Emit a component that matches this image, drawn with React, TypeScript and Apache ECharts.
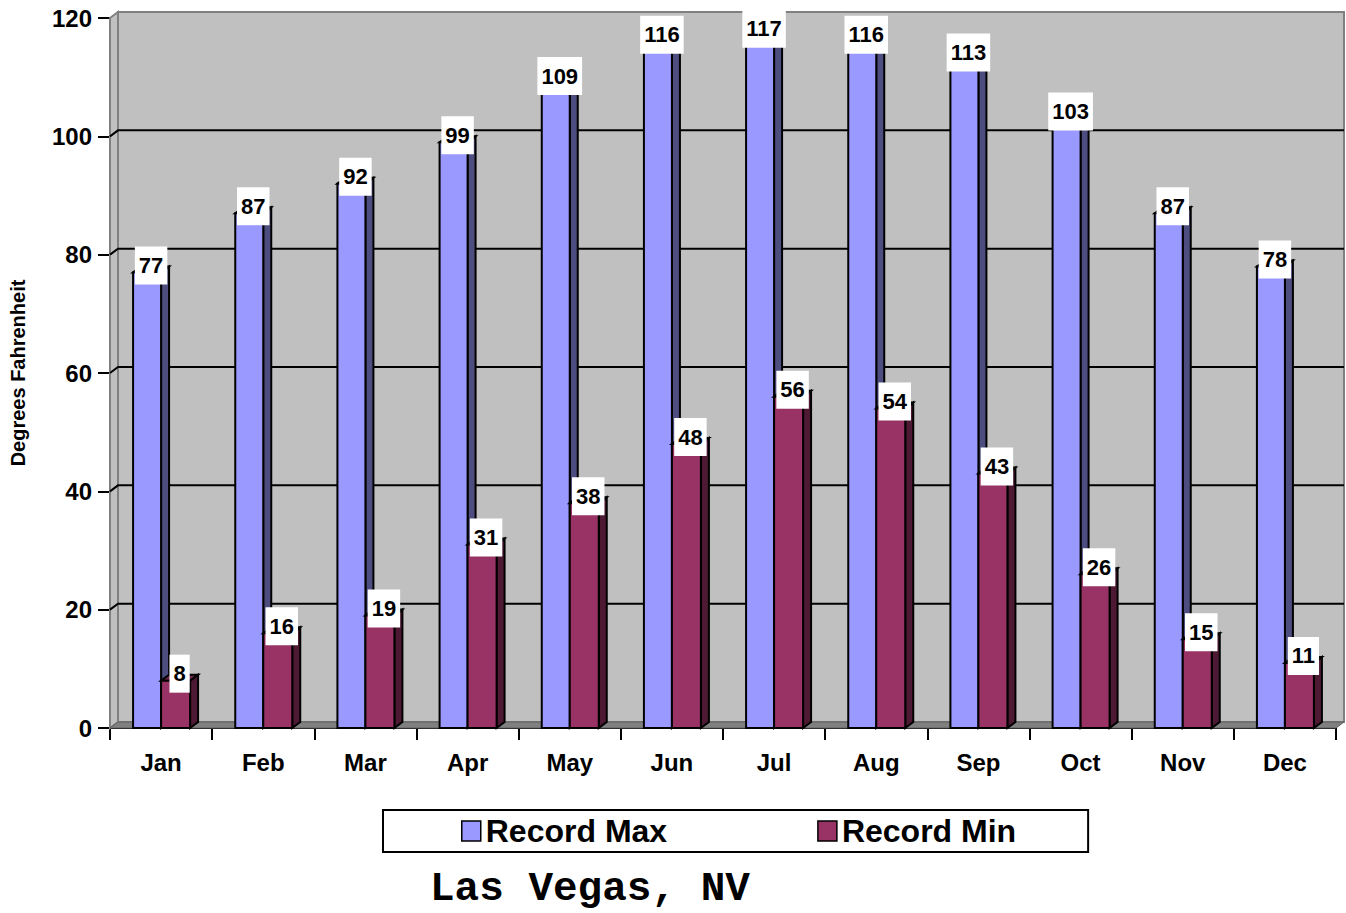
import React, { useEffect, useRef } from "react";
import * as echarts from "echarts";

const months = ["Jan", "Feb", "Mar", "Apr", "May", "Jun", "Jul", "Aug", "Sep", "Oct", "Nov", "Dec"];
const recordMax = [77, 87, 92, 99, 109, 116, 117, 116, 113, 103, 87, 78];
const recordMin = [8, 16, 19, 31, 38, 48, 56, 54, 43, 26, 15, 11];
const gridTicks = [20, 40, 60, 80, 100];

const DX = 8;
const DY = -6;
const FONT = '"Liberation Sans", Arial, sans-serif';

function barRenderer(offset: number, width: number, front: string, side: string, topc: string) {
  return (params: any, api: any) => {
    const i = api.value(0);
    const v = api.value(1);
    const top = api.coord([i, v]);
    const base = api.coord([i, 0]);
    const x0 = top[0] + offset;
    const x1 = x0 + width;
    const yt = top[1];
    const yb = base[1];
    const stroke = { stroke: "#000", lineWidth: 2, lineJoin: "miter" };
    return {
      type: "group",
      children: [
        {
          type: "polygon",
          shape: { points: [[x1, yt], [x1 + DX, yt + DY], [x1 + DX, yb + DY], [x1, yb]] },
          style: { fill: side, ...stroke },
        },
        {
          type: "polygon",
          shape: { points: [[x0, yt], [x0 + DX, yt + DY], [x1 + DX, yt + DY], [x1, yt]] },
          style: { fill: topc, ...stroke },
        },
        {
          type: "rect",
          shape: { x: x0, y: yt, width: width, height: yb - yt },
          style: { fill: front, ...stroke },
        },
        {
          type: "text",
          x: (x0 + x1) / 2 + 4,
          y: yt - 7,
          z2: 100,
          style: {
            text: String(v),
            fill: "#000",
            font: `bold 22px ${FONT}`,
            align: "center",
            verticalAlign: "middle",
            backgroundColor: "#fff",
            padding: [8, 4],
          },
        },
      ],
    };
  };
}

function wallRenderer(params: any, api: any) {
  const cs = params.coordSys;
  const gx = cs.x;
  const gy = cs.y;
  const gw = cs.width;
  const gh = cs.height;
  const children: any[] = [
    {
      type: "rect",
      shape: { x: gx + DX, y: gy + DY, width: gw, height: gh },
      style: { fill: "#C0C0C0", stroke: "#808080", lineWidth: 2 },
    },
    {
      type: "polygon",
      shape: { points: [[gx, gy], [gx + DX, gy + DY], [gx + DX, gy + gh + DY], [gx, gy + gh]] },
      style: { fill: "#C0C0C0", stroke: "#808080", lineWidth: 2 },
    },
    {
      type: "polygon",
      shape: { points: [[gx, gy + gh], [gx + DX, gy + gh + DY], [gx + gw + DX, gy + gh + DY], [gx + gw, gy + gh]] },
      style: { fill: "#808080", stroke: "#606060", lineWidth: 1 },
    },
  ];
  gridTicks.forEach((t) => {
    const y = api.coord([0, t])[1];
    children.push({
      type: "polyline",
      shape: { points: [[gx, y], [gx + DX, y + DY], [gx + gw + DX, y + DY]] },
      style: { stroke: "#000", lineWidth: 2, fill: null },
    });
  });
  return { type: "group", children };
}

export default function App() {
  const ref = useRef<HTMLDivElement>(null);
  useEffect(() => {
    if (!ref.current) return;
    const chart = echarts.init(ref.current, null, { renderer: "svg" });
    chart.setOption({
      animation: false,
      backgroundColor: "#fff",
      title: {
        text: "Las Vegas, NV",
        left: 430,
        top: 870,
        padding: 0,
        textStyle: {
          fontFamily: '"Liberation Mono", "Courier New", monospace',
          fontWeight: "bold",
          fontSize: 41,
          lineHeight: 38,
          color: "#000",
        },
      },
      legend: {
        left: 383,
        top: 810,
        padding: [5, 72, 5, 78],
        itemGap: 150,
        itemWidth: 19,
        itemHeight: 20,
        backgroundColor: "#fff",
        borderColor: "#000",
        borderWidth: 2,
        borderRadius: 0,
        icon: "rect",
        itemStyle: { borderColor: "#000", borderWidth: 1.5 },
        textStyle: { fontFamily: FONT, fontWeight: "bold", fontSize: 32, color: "#000", lineHeight: 31 },
        data: ["Record Max", "Record Min"],
      },
      grid: { left: 110, top: 18, width: 1226, height: 710, containLabel: false, outerBoundsMode: "none" },
      xAxis: {
        type: "category",
        data: months,
        boundaryGap: true,
        axisLine: { lineStyle: { color: "#000", width: 2 } },
        axisTick: { show: true, length: 12, alignWithLabel: false, lineStyle: { color: "#000", width: 2 } },
        axisLabel: { margin: 22, fontFamily: FONT, fontWeight: "bold", fontSize: 24, color: "#000" },
        splitLine: { show: false },
      },
      yAxis: {
        type: "value",
        min: 0,
        max: 120,
        interval: 20,
        name: "Degrees Fahrenheit",
        nameLocation: "middle",
        nameRotate: 90,
        nameGap: 82,
        nameTextStyle: { fontFamily: FONT, fontWeight: "bold", fontSize: 20, color: "#000" },
        axisLine: { show: true, lineStyle: { color: "#000", width: 2 } },
        axisTick: { show: true, length: 12, lineStyle: { color: "#000", width: 2 } },
        axisLabel: { margin: 18, fontFamily: FONT, fontWeight: "bold", fontSize: 24, color: "#000" },
        splitLine: { show: false },
      },
      series: [
        {
          type: "custom",
          name: "wall",
          z: 1,
          silent: true,
          renderItem: wallRenderer,
          data: [[0, 0]],
          encode: { x: 0, y: 1 },
        },
        {
          type: "custom",
          name: "Record Max",
          z: 2,
          itemStyle: { color: "#9999FF" },
          renderItem: barRenderer(-28, 28, "#9999FF", "#4D4D80", "#7373BF"),
          data: recordMax.map((v, i) => [i, v]),
          encode: { x: 0, y: 1 },
        },
        {
          type: "custom",
          name: "Record Min",
          z: 3,
          itemStyle: { color: "#993366" },
          renderItem: barRenderer(0, 29, "#993366", "#4D1933", "#73264D"),
          data: recordMin.map((v, i) => [i, v]),
          encode: { x: 0, y: 1 },
        },
      ],
    });
    return () => chart.dispose();
  }, []);
  return (
    <div
      ref={ref}
      style={{ position: "fixed", left: 0, top: 0, width: 1346, height: 913 }}
    />
  );
}
